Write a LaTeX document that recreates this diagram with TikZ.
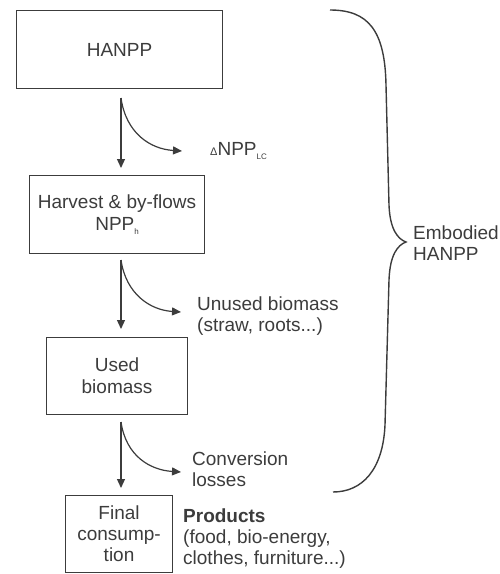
\documentclass[tikz,border=0pt]{standalone}
\usepackage{fontspec}
\setmainfont{Liberation Sans}
\usetikzlibrary{arrows.meta}
\definecolor{ink}{HTML}{3C3C3C}
\newcommand\mysub[1]{\raisebox{-4pt}{\fontsize{8}{8}\selectfont #1}}
\begin{document}
\begin{tikzpicture}[x=1pt,y=-1pt,
  box/.style={draw=ink, line width=1.1pt, text=ink, align=center, inner sep=0pt, anchor=north west,
    font=\fontsize{19}{22}\selectfont},
  flow/.style={-{Triangle[length=9pt,width=8pt]}, draw=ink, line width=1.2pt},
  lbl/.style={text=ink, align=left, anchor=west, inner sep=0pt, font=\fontsize{19}{21}\selectfont},
  brace/.style={draw=ink, line width=1.4pt}]
\useasboundingbox (0,0) rectangle (500,574);
% boxes
\node[box, minimum width=206pt, minimum height=78pt] (hanpp) at (16,10) {HANPP};
\node[box, minimum width=175pt, minimum height=78pt] (harv) at (29,175) {Harvest \& by-flows\\NPP\mysub{h}};
\node[box, minimum width=141pt, minimum height=77pt] (used) at (46,337) {Used\\biomass};
\node[box, minimum width=107pt, minimum height=77pt, font=\fontsize{19}{21}\selectfont] (final) at (65,495) {Final\\consump-\\tion};
% labels
\node[lbl] (dnpp) at (210,151) {{\fontsize{11}{11}\selectfont Δ}NPP\mysub{LC}};
\node[lbl] (unused) at (197,316) {Unused biomass\\(straw, roots...)};
\node[lbl] (conv) at (192,469) {Conversion\\losses};
\node[lbl] (prod) at (183,539) {\textbf{Products}\\(food, bio-energy,\\clothes, furniture...)};
\node[lbl] (emb) at (413,243) {Embodied\\HANPP};
% arrow coordinates
\coordinate (s1) at (121,98);  \coordinate (e1) at (121,168); \coordinate (c1) at (182,151);
\coordinate (s2) at (121,260); \coordinate (e2) at (121,329); \coordinate (c2) at (181,312);
\coordinate (s3) at (121,422); \coordinate (e3) at (121,488); \coordinate (c3) at (181,472);
\draw[flow] (s1) -- (e1);
\draw[flow] (s1) .. controls (126,133) and (150,149) .. (c1);
\draw[flow] (s2) -- (e2);
\draw[flow] (s2) .. controls (126,294) and (150,310) .. (c2);
\draw[flow] (s3) -- (e3);
\draw[flow] (s3) .. controls (126,456) and (150,470) .. (c3);
% brace
\coordinate (btop) at (330,10);
\coordinate (btip) at (406,242);
\coordinate (bbot) at (333,492);
\draw[brace] (btop) .. controls (368,10) and (385,30) .. (386,85)
  -- (389,205) .. controls (390,230) and (398,239) .. (btip)
  .. controls (398,245) and (390,254) .. (389,280)
  -- (385,425) .. controls (383,470) and (362,492) .. (bbot);
\end{tikzpicture}
\end{document}
